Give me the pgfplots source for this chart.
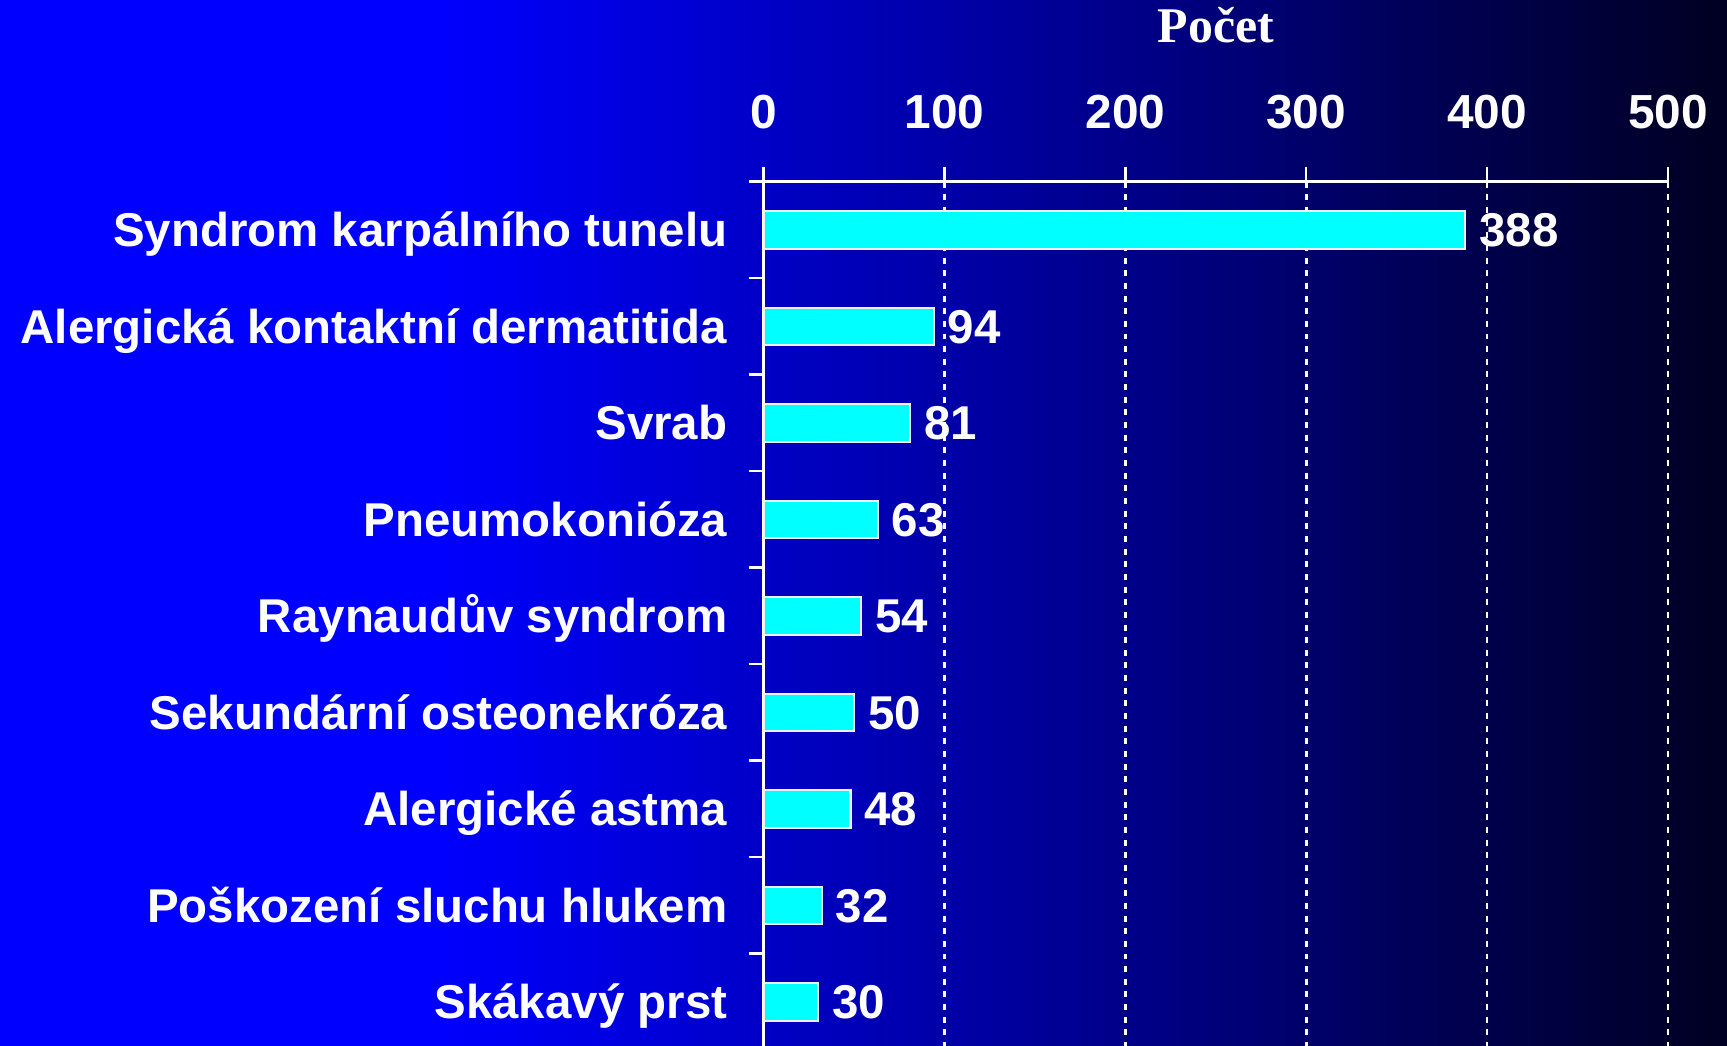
\documentclass[border=0pt]{standalone}
\usepackage{pgfplots}
\pgfplotsset{compat=1.18}
\usepackage{fontspec}
\setmainfont{Liberation Sans}
\newfontfamily\seriffont{Liberation Serif}
\definecolor{bgleft}{RGB}{0,0,255}
\definecolor{bgright}{RGB}{0,0,34}
\definecolor{barcyan}{RGB}{0,255,255}
\begin{document}
\begin{tikzpicture}
\fill[bgleft] (0,0) rectangle (43.8mm,104.6mm);
\shade[left color=bgleft, right color=bgright] (43.6mm,0) rectangle (172.7mm,104.6mm);
\useasboundingbox (0,0) rectangle (172.7mm,104.6mm);
\begin{axis}[
  at={(76.37mm,86.43mm)}, anchor=north west,
  scale only axis, width=90.42mm, height=86.85mm,
  xbar, bar width=3.75mm,
  xmin=0, xmax=500, ymin=-0.5, ymax=8.5, y dir=reverse,
  enlarge x limits=false, enlarge y limits=false,
  axis x line=top, axis y line=left,
  axis line style={white, line width=0.7pt, -},
  tick align=outside,
  major tick length=1.5mm, minor tick length=1.5mm,
  tick style={white, line width=0.7pt},
  major y tick style={draw=none},
  xtick={0,100,...,500},
  ytick={0,...,8},
  minor ytick={-0.5,0.5,...,8.5},
  yticklabels={Syndrom karpálního tunelu, Alergická kontaktní dermatitida, Svrab, Pneumokonióza, Raynaudův syndrom, Sekundární osteonekróza, Alergické astma, Poškození sluchu hlukem, Skákavý prst},
  /pgf/number format/assume math mode=true,
  xmajorgrids,
  major grid style={white, dash pattern=on 1.7pt off 1.9pt, line width=0.75pt},
  xticklabel style={font=\bfseries\fontsize{13.6}{16}\selectfont, text=white, anchor=base, yshift=3.78mm},
  yticklabel style={font=\bfseries\fontsize{13.5}{16}\selectfont, text=white, inner sep=0pt, anchor=base east, yshift=-1.7mm, xshift=-2.07mm},
  xlabel={Počet},
  xlabel style={font=\seriffont\bfseries\fontsize{14.2}{17}\selectfont, text=white, at={(axis description cs:0.5,1)}, anchor=base, yshift=13.9mm},
  point meta=x,
  nodes near coords,
  nodes near coords style={text=white, font=\bfseries\fontsize{13.5}{16}\selectfont, anchor=base west, inner sep=0pt, xshift=1.3mm, yshift=-1.7mm},
  clip=false,
]
\addplot[fill=barcyan, draw=white!88!gray, line width=0.6pt] coordinates {
  (388,0) (94,1) (81,2) (63,3) (54,4) (50,5) (48,6) (32,7) (30,8)
};
\end{axis}
\end{tikzpicture}
\end{document}
